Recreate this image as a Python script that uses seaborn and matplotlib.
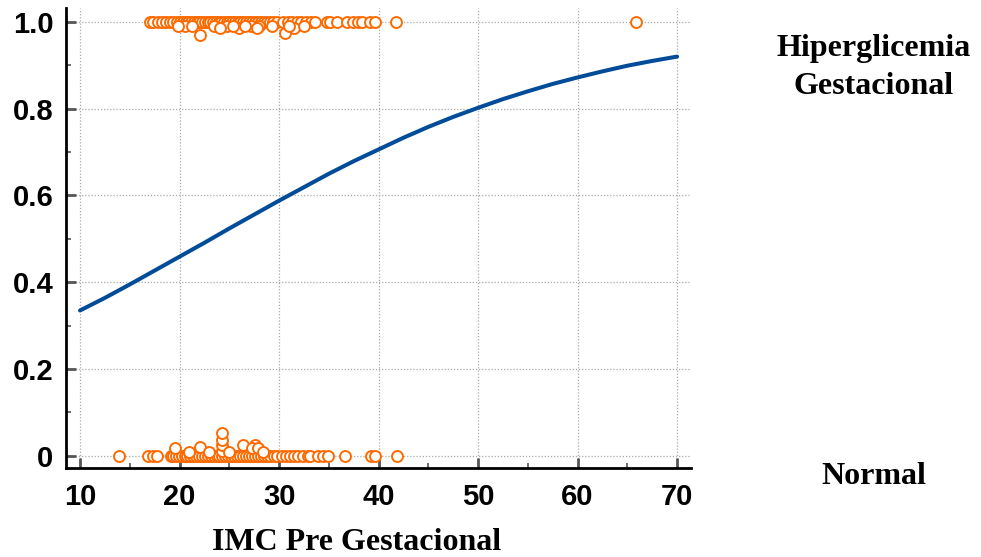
import matplotlib
matplotlib.use("Agg")
import matplotlib.pyplot as plt
import seaborn as sns
import pandas as pd
from matplotlib.ticker import MultipleLocator

# --- data ---
# Hiperglicemia Gestacional (outcome = 1), stacked points slightly below 1
top_x = [17.0, 17.3, 17.8, 18.2, 18.6, 19.0, 19.3, 19.7, 20.0, 20.3, 20.6, 20.9,
         21.2, 21.5, 21.8, 22.0, 22.3, 22.6, 22.9, 23.1, 23.4, 23.7, 24.0, 24.2,
         24.5, 24.8, 25.0, 25.3, 25.6, 25.9, 26.1, 26.4, 26.7, 27.0, 27.3, 27.6,
         27.9, 28.2, 28.5, 28.8, 29.1, 29.4, 29.8, 30.4, 30.9, 31.3, 31.8, 32.2,
         32.7, 33.2, 33.6, 34.8, 35.1, 35.8, 36.8, 37.4, 37.9, 38.3, 39.1, 39.6,
         41.8, 65.9,
         22.1, 20.5, 23.5, 24.8, 26.0, 27.2, 30.6, 31.5, 32.5, 28.0, 25.4, 29.3,
         21.3, 24.1, 26.6, 27.8, 19.8, 31.0]
top_y = [1.0] * 62 + [0.97, 0.99, 0.99, 0.99, 0.985, 0.99, 0.975, 0.985, 0.99,
                      0.99, 0.99, 0.99, 0.99, 0.985, 0.99, 0.985, 0.99, 0.99]

# Normal (outcome = 0), stacked points slightly above 0
bot_x = [13.9, 16.8, 17.3, 17.7, 19.1, 19.3, 19.6, 19.9, 20.2, 20.5, 20.8, 21.1,
         21.4, 21.7, 22.0, 22.3, 22.6, 22.9, 23.2, 23.5, 23.8, 24.0, 24.3, 24.6,
         24.9, 25.2, 25.5, 25.8, 26.1, 26.4, 26.7, 27.0, 27.3, 27.6, 27.9, 28.2,
         28.5, 28.8, 29.1, 29.5, 29.8, 30.3, 30.7, 31.1, 31.5, 31.9, 32.4, 32.9,
         33.1, 33.9, 34.4, 34.9, 36.6, 39.2, 39.6, 41.9,
         19.5, 24.3, 24.3, 24.3, 24.3, 22.1, 26.4, 27.6, 27.3, 27.9, 23.0, 25.0,
         21.0, 28.4]
bot_y = [0.0] * 56 + [0.018, 0.012, 0.024, 0.037, 0.052, 0.02, 0.025, 0.025,
                      0.018, 0.018, 0.01, 0.01, 0.01, 0.01]

# fitted probability curve
curve_x = [10, 12.5, 15, 17.5, 20, 22.5, 25, 27.5, 30, 32.5, 35, 37.5, 40, 42.5,
           45, 47.5, 50, 52.5, 55, 57.5, 60, 62.5, 65, 67.5, 70]
curve_y = [0.335, 0.364, 0.395, 0.427, 0.459, 0.491, 0.524, 0.556, 0.588, 0.619,
           0.650, 0.679, 0.706, 0.733, 0.758, 0.781, 0.802, 0.822, 0.840, 0.857,
           0.872, 0.886, 0.899, 0.910, 0.920]

x_ticks = [10, 20, 30, 40, 50, 60, 70]
y_ticks = [0, 0.2, 0.4, 0.6, 0.8, 1.0]
y_tick_labels = ["0", "0.2", "0.4", "0.6", "0.8", "1.0"]

pts = pd.DataFrame({"imc": top_x + bot_x, "p": top_y + bot_y})
curve = pd.DataFrame({"imc": curve_x, "p": curve_y})

sns.set_style("white")
plt.rcParams["text.color"] = "black"
plt.rcParams["xtick.color"] = "black"
plt.rcParams["ytick.color"] = "black"
plt.rcParams["axes.labelcolor"] = "black"

fig = plt.figure(figsize=(9.81, 5.57), dpi=100)
ax = fig.add_axes([66 / 981, 1 - 468 / 557, (691 - 66) / 981, (468 - 8) / 557])

ax.set_xlim(8.59, 71.4)
ax.set_ylim(-0.028, 1.032)
ax.set_xticks(x_ticks)
ax.set_yticks(y_ticks)
ax.set_yticklabels(y_tick_labels)
ax.xaxis.set_minor_locator(MultipleLocator(5))
ax.yaxis.set_minor_locator(MultipleLocator(0.1))

ax.grid(True, which="major", color="#aaaaaa", linestyle=(0, (1, 1.5)), linewidth=0.9)
ax.set_axisbelow(True)

sns.lineplot(data=curve, x="imc", y="p", ax=ax, color="#004c99", linewidth=2.9,
             zorder=3)
sns.scatterplot(data=pts, x="imc", y="p", ax=ax, marker="o", s=62,
                facecolor="white", edgecolor="#ff6a00", linewidth=1.4, zorder=4)

for side in ["top", "right"]:
    ax.spines[side].set_visible(False)
for side in ["left", "bottom"]:
    ax.spines[side].set_color("black")
    ax.spines[side].set_linewidth(2.0)

ax.tick_params(which="major", direction="in", length=7, width=2.0, color="#555555",
               labelcolor="black", left=True, bottom=True, labelsize=21)
ax.tick_params(axis="x", which="major", pad=11)
ax.tick_params(axis="y", which="major", pad=9)
ax.tick_params(which="minor", direction="in", length=3.5, width=1.2, color="#555555",
               left=True, bottom=True)
for lab in ax.get_xticklabels() + ax.get_yticklabels():
    lab.set_fontfamily("Liberation Sans")
    lab.set_fontweight("bold")

ax.set_xlabel("IMC Pre Gestacional", fontfamily="Liberation Serif",
              fontweight="bold", fontsize=23, color="black")
ax.xaxis.set_label_coords((357 - 66) / 625, -(543 - 468) / 460)
ax.xaxis.label.set_verticalalignment("center")
ax.set_ylabel("")

fig.text(874 / 981, 1 - 67.5 / 557, "Hiperglicemia\nGestacional", ha="center",
         va="center", fontfamily="Liberation Serif", fontweight="bold",
         fontsize=23, linespacing=1.42, color="black")
fig.text(874 / 981, 1 - 476 / 557, "Normal", ha="center", va="center",
         fontfamily="Liberation Serif", fontweight="bold", fontsize=23,
         color="black")

fig.savefig("out.png", dpi=100)
